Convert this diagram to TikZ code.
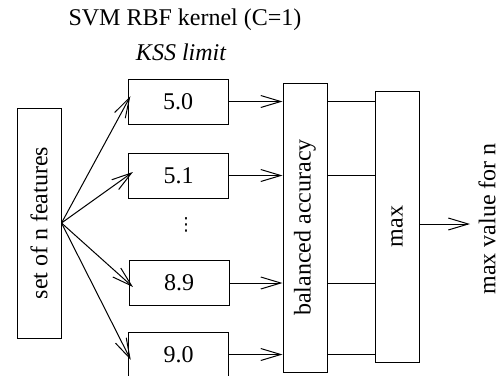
\documentclass[tikz,border=0pt]{standalone}
\usepackage{fontspec}
\setmainfont{Liberation Serif}
\newfontfamily\dvfont{DejaVu Sans}
\usetikzlibrary{arrows.meta}
\begin{document}
\begin{tikzpicture}[x=1pt,y=-1pt,
  every node/.style={font=\fontsize{24}{28}\selectfont, inner sep=0pt},
  valbox/.style={draw, line width=1pt, minimum width=100pt, minimum height=45pt},
  tallbox/.style={draw, line width=1pt, minimum width=44pt},
  conn/.style={line width=1pt},
  arr/.style={conn, -{Straight Barb[length=20pt,width=12pt,line width=1pt]}}]
\useasboundingbox (0,0) rectangle (503,375);
\node (title) at (185,20) {SVM RBF kernel (C=1)};
\node (kss) at (181,52) {\itshape KSS limit};
\node[tallbox, minimum height=230pt] (set) at (39,223) {\rotatebox{90}{set of n features}};
\node[valbox] (v50) at (178,101.5) {5.0};
\node[valbox] (v51) at (178.5,175.5) {5.1};
\node[font=\dvfont\fontsize{18}{20}\selectfont] (dots) at (186,225) {⋮};
\node[valbox] (v89) at (179,283) {8.9};
\node[valbox] (v90) at (178.5,354.5) {9.0};
\node[tallbox, minimum height=289pt] (ba) at (305,227.5) {\rotatebox{90}{balanced accuracy}};
\node[tallbox, minimum height=271pt] (mx) at (397,226.5) {\rotatebox{90}{max}};
\node (out) at (487,219) {\rotatebox{90}{max value for n}};
\coordinate (outend) at (470,224);
\foreach \b in {v50,v51,v89,v90}{
  \draw[arr, shorten >=-6pt] (set.east) -- (\b.west);
  \draw[arr] (\b.east) -- (ba.west |- \b.east);
  \draw[conn] (ba.east |- \b.east) -- (mx.west |- \b.east);
}
\draw[arr] (mx.east |- outend) -- (outend);
\end{tikzpicture}
\end{document}
